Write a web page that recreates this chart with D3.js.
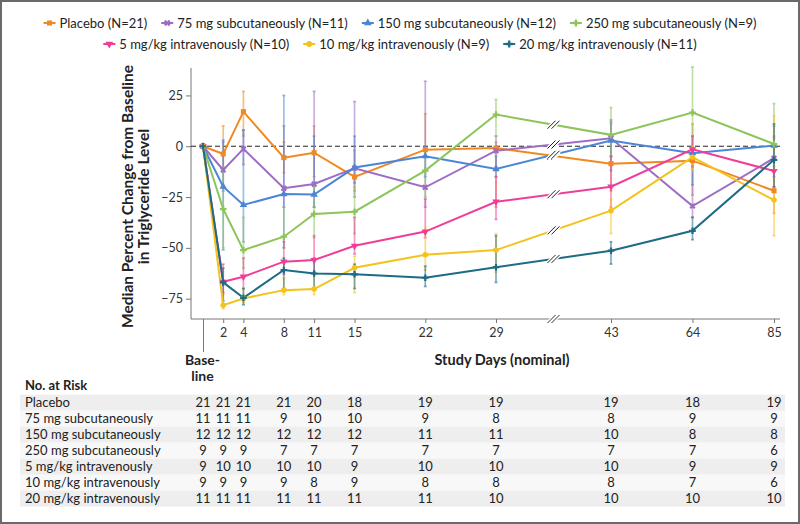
<!DOCTYPE html>
<html><head><meta charset="utf-8">
<script src="https://cdn.jsdelivr.net/npm/d3@7/dist/d3.min.js"></script>
<style>body{margin:0;background:#fff}svg{display:block;font-family:Lato,"Noto Sans",sans-serif}</style>
</head><body><svg id="c" width="800" height="524"></svg>
<script>
const days = [0,2,4,8,11,15,22,29,43,64,85];
const dayLabels = ["","2","4","8","11","15","22","29","43","64","85"];
const seriesNames = ["Placebo (N=21)","75 mg subcutaneously (N=11)","150 mg subcutaneously (N=12)","250 mg subcutaneously (N=9)","5 mg/kg intravenously (N=10)","10 mg/kg intravenously (N=9)","20 mg/kg intravenously (N=11)"];
const riskNames = ["Placebo","75 mg subcutaneously","150 mg subcutaneously","250 mg subcutaneously","5 mg/kg intravenously","10 mg/kg intravenously","20 mg/kg intravenously"];
const yTicks = [25,0,-25,-50,-75];

const placebo = [0,-3.8,17,-5.6,-3.2,-15.1,-1.7,-0.9,-8.6,-7.1,-21.9];
const sc75    = [0,-11.7,-1.3,-20.7,-18.6,-10.8,-20.2,-2.2,3.9,-29.4,-5.9];
const sc150   = [0,-19.9,-28.9,-23.5,-23.8,-10.5,-4.9,-11.2,2.8,-3.4,0.3];
const sc250   = [0,-30.9,-51.1,-44.5,-33.3,-32.2,-12,15.6,5.6,16.6,1.1];
const iv5     = [0,-66.7,-64.2,-56.8,-56,-49,-42,-27.3,-19.9,-1.5,-12.2];
const iv10    = [0,-78.2,-74.9,-70.8,-70.3,-59.8,-53.4,-51.1,-31.7,-5.4,-26.5];
const iv20    = [0,-67,-74.6,-60.9,-62.6,-63,-64.7,-59.5,-51.4,-41.6,-6.7];

const placeboLo = [null,-12,5,-13,-15,-22,-5,-30,-22,-24,-33];
const placeboHi = [null,10,27,2,10,-2,16,2,11,11,4];
const sc75Lo  = [null,-22,-9,-30,-30,-25,-30,-10,-5,-35,-15];
const sc75Hi  = [null,2,8,10,27,22,32,5,12,-10,5];
const sc150Lo = [null,-51,-47,-50,-30,-18,-15,-15,-12,-19,-12];
const sc150Hi = [null,3,8,25,5,5,0,-5,13,5,10];
const sc250Lo = [null,-50,-60,-50,-45,-43,-25,5,-5,-5,-10];
const sc250Hi = [null,-10,-35,-30,-20,-20,-5,23,19,39,21];
const iv5Lo   = [null,-72,-70,-63,-62,-53,-45,-36,-30,-10,-20];
const iv5Hi   = [null,-58,-55,-47,-44,-35,-26,-15,-5,5,-5];
const iv10Lo  = [null,-80,-77,-73,-73,-72,-61,-62,-43,-12,-44];
const iv10Hi  = [null,-73,-70,-65,-62,-54,-40,-43,-26,0,15];
const iv20Lo  = [null,-76,-78,-70,-70,-70,-69,-67,-58,-46,-20];
const iv20Hi  = [null,-60,-70,-55,-55,-58,-59,-44,-47,-35,11];

const riskPlacebo = [21,21,21,21,20,18,19,19,19,18,19];
const risk75  = [11,11,11,9,10,10,9,8,8,9,9];
const risk150 = [12,12,12,12,12,12,11,11,10,8,8];
const risk250 = [9,9,9,7,7,7,7,7,7,7,6];
const riskIv5 = [9,10,10,10,10,9,10,10,10,9,9];
const riskIv10= [9,9,9,9,8,9,8,8,8,7,6];
const riskIv20= [11,11,11,11,11,11,11,10,10,10,10];

const colors = ["#F0891F","#9E6CC4","#4B86D6","#8DC55B","#EE3E98","#F4C21A","#1D6B85"];
const symbols = [d3.symbolSquare,d3.symbolCross,d3.symbolTriangle,d3.symbolCross,d3.symbolTriangle,d3.symbolCircle,d3.symbolCross];
const symRot = [0,45,0,0,180,0,0];

const values = [placebo,sc75,sc150,sc250,iv5,iv10,iv20];
const los = [placeboLo,sc75Lo,sc150Lo,sc250Lo,iv5Lo,iv10Lo,iv20Lo];
const his = [placeboHi,sc75Hi,sc150Hi,sc250Hi,iv5Hi,iv10Hi,iv20Hi];
const risks = [riskPlacebo,risk75,risk150,risk250,riskIv5,riskIv10,riskIv20];

const svg = d3.select("#c");
svg.append("rect").attr("x",1).attr("y",1).attr("width",798).attr("height",522).attr("fill","#fff").attr("stroke","#6a6a6a").attr("stroke-width",2);

const x = d3.scaleLinear().domain([0,29,43,85]).range([203,496,611,774]);
const y = d3.scaleLinear().domain([-85,38]).range([319,69]);
const axisColor = "#777";

// risk table (drawn first so bands sit underneath)
svg.append("text").attr("x",25).attr("y",385).attr("dy","0.35em").attr("font-size",13).attr("font-weight","bold").attr("fill","#222").text("No. at Risk");
riskNames.forEach((n,r)=>{
  const cy = 402.7 + r*16;
  svg.append("rect").attr("x",20).attr("y",cy-8).attr("width",765).attr("height",16).attr("fill",r%2===0?"#eeeeee":"#f8f8f8");
  svg.append("text").attr("x",25).attr("y",cy).attr("dy","0.35em").attr("font-size",13).attr("fill","#222").text(n);
  risks[r].forEach((v,i)=>{
    svg.append("text").attr("x",x(days[i])).attr("y",cy).attr("dy","0.35em").attr("text-anchor","middle").attr("font-size",13).attr("fill","#222").text(v);
  });
});

// axes
const gy = svg.append("g").attr("transform","translate(191,0)")
  .call(d3.axisLeft(y).tickValues(yTicks).tickSize(5).tickFormat(d=>d<0?"\u2212"+Math.abs(d):d));
gy.select(".domain").attr("d","M0,68V319").attr("stroke",axisColor);
gy.selectAll(".tick line").attr("stroke",axisColor);
gy.selectAll(".tick text").attr("font-size",12.5).attr("fill","#333").attr("font-family","Lato,sans-serif").attr("x",-8);

const gx = svg.append("g").attr("transform","translate(0,319)")
  .call(d3.axisBottom(x).tickValues(days).tickSize(4).tickFormat((d,i)=>dayLabels[i]));
gx.select(".domain").attr("d","M191,0H780").attr("stroke",axisColor);
gx.selectAll(".tick line").attr("stroke",axisColor).attr("y2",(d)=>d===0?33:4);
gx.selectAll(".tick text").attr("font-size",12.5).attr("fill","#333").attr("font-family","Lato,sans-serif").attr("dy","0.9em");

// axis break mark
const bx = x(36);
function breakMark(cx, cy, col){
  const g = svg.append("g");
  [-2,2].forEach(o=>{
    g.append("line").attr("x1",cx+o-4).attr("y1",cy+4).attr("x2",cx+o+4).attr("y2",cy-4).attr("stroke","#fff").attr("stroke-width",3.5);
  });
  [-2,2].forEach(o=>{
    g.append("line").attr("x1",cx+o-4).attr("y1",cy+4).attr("x2",cx+o+4).attr("y2",cy-4).attr("stroke",col).attr("stroke-width",1);
  });
}
breakMark(bx,319,"#333");

// zero line
svg.append("line").attr("x1",191).attr("x2",780).attr("y1",y(0)).attr("y2",y(0)).attr("stroke","#222").attr("stroke-width",1).attr("stroke-dasharray","5,3");

// axis titles
const yt = svg.append("text").attr("transform","translate(128,196.5) rotate(-90)").attr("text-anchor","middle").attr("font-weight","bold").attr("font-size",15.5).attr("fill","#222");
yt.append("tspan").attr("x",0).attr("dy","0.35em").text("Median Percent Change from Baseline");
yt.append("tspan").attr("x",0).attr("dy",15.5).text("in Triglyceride Level");
svg.append("text").attr("x",202.5).attr("y",360).attr("dy","0.35em").attr("text-anchor","middle").attr("font-weight","bold").attr("font-size",14).attr("fill","#222").text("Base-");
svg.append("text").attr("x",202.5).attr("y",376).attr("dy","0.35em").attr("text-anchor","middle").attr("font-weight","bold").attr("font-size",14).attr("fill","#222").text("line");
svg.append("text").attr("x",502).attr("y",360).attr("dy","0.35em").attr("text-anchor","middle").attr("font-weight","bold").attr("font-size",14.5).attr("fill","#222").text("Study Days (nominal)");

// error bars
values.forEach((vals,s)=>{
  const g = svg.append("g").attr("stroke",colors[s]).attr("stroke-opacity",0.55).attr("stroke-width",1.7);
  days.forEach((d,i)=>{
    if(los[s][i]==null) return;
    const cx = x(d);
    g.append("line").attr("x1",cx).attr("x2",cx).attr("y1",y(los[s][i])).attr("y2",y(his[s][i]));
    [los[s][i],his[s][i]].forEach(v=>g.append("line").attr("x1",cx-1.5).attr("x2",cx+1.5).attr("y1",y(v)).attr("y2",y(v)));
  });
});

// lines
const line = d3.line().x((v,i)=>x(days[i])).y(v=>y(v));
values.forEach((vals,s)=>{
  svg.append("path").attr("d",line(vals)).attr("fill","none").attr("stroke",colors[s]).attr("stroke-width",2);
});
// markers
values.forEach((vals,s)=>{
  const sym = d3.symbol().type(symbols[s]).size(s===0?26:24);
  vals.forEach((v,i)=>{
    svg.append("path").attr("d",sym()).attr("fill",colors[s])
      .attr("transform",`translate(${x(days[i])},${y(v)}) rotate(${symRot[s]})`);
  });
});
// break marks on lines
values.forEach((vals,s)=>{
  const v = vals[7] + (vals[8]-vals[7])*(36-29)/(43-29);
  breakMark(bx, y(v), "#222");
});

// legend: two rows, each centred on the figure
const legRows = [[0,1,2,3],[4,5,6]];
const legY = [23,44];
legRows.forEach((row,ri)=>{
  const g = svg.append("g");
  const items = row.map(s=>{
    const it = g.append("g");
    it.append("line").attr("x1",-6).attr("x2",6).attr("stroke",colors[s]).attr("stroke-width",2);
    it.append("path").attr("d",d3.symbol().type(symbols[s]).size(26)()).attr("fill",colors[s]).attr("transform",`rotate(${symRot[s]})`);
    const t = it.append("text").attr("x",10).attr("dy","0.35em").attr("font-size",13).attr("fill","#222").text(seriesNames[s]);
    return {it, w: 10 + t.node().getComputedTextLength()};
  });
  const gap = 20;
  const total = items.reduce((a,b)=>a+b.w,0) + gap*(items.length-1) + 6;
  let cx = 400 - total/2 + 6;
  items.forEach(o=>{ o.it.attr("transform",`translate(${cx},${legY[ri]})`); cx += o.w + gap; });
});
</script></body></html>
